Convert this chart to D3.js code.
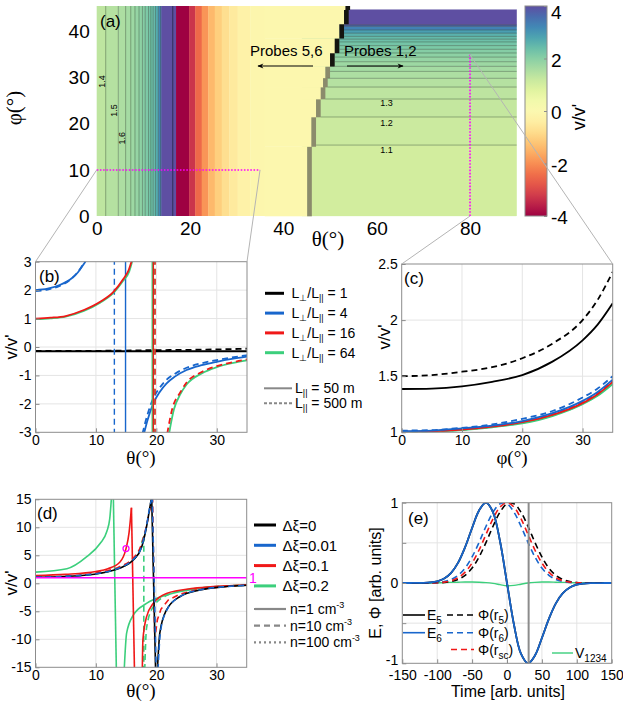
<!DOCTYPE html>
<html>
<head>
<meta charset="utf-8">
<script src="https://cdn.jsdelivr.net/npm/d3@7"></script>
<style>
  body { margin: 0; background: #fff; }
  text { font-family: "Liberation Sans", Arial, sans-serif; fill: #000; }
</style>
</head>
<body>
<svg id="fig" width="623" height="701"></svg>
<script>
// ================= DATA =================
// (a) heat map of v/v' : theta bands (left of the step edge), phi rows (right of it)
var aLeftEdges = [0, 1.93, 4.63, 6.2, 7.3, 8.2, 9.07, 9.8, 10.4, 11.1, 11.6, 12.1, 12.6, 13.2, 13.7, 13.9,
                  16.3, 17.0, 19.8, 21.1, 22.5, 23.9, 25.3, 26.8, 28.4, 30.2, 32.9, 36];
var aLeftVals  = [1.33, 1.45, 1.55, 1.65, 1.75, 1.85, 1.95, 2.05, 2.15, 2.25, 2.35, 2.45, 2.7, 3.2, 3.7,
                  4.5, 4.3, -4.5, -3.3, -2.5, -1.9, -1.4, -1.05, -0.75, -0.5, -0.3, -0.15];
var aPaleVal = -0.1;
var aRightEdges = [0, 15.4, 21.5, 25.4, 28.0, 29.9, 31.4, 32.5, 33.5, 34.5, 35.4, 36.2, 37.0, 37.8,
                   38.4, 39.0, 39.7, 40.4, 41.2, 41.5, 44.8];
var aRightVals  = [1.05, 1.15, 1.25, 1.35, 1.45, 1.55, 1.65, 1.75, 1.85, 1.95, 2.05, 2.15, 2.25, 2.35,
                   2.45, 2.6, 2.9, 3.3, 3.7, 4.5];
var aStepLo    = [0, 15.1, 21.5, 25.4, 28.0, 30.0, 32.5, 35.4, 38.6, 41.7, 44.8];
var aStepHi    = [15.1, 21.5, 25.4, 28.0, 30.0, 32.5, 35.4, 38.6, 41.7, 44.8, 45.6];
var aStepTheta = [46.1, 47.0, 48.0, 49.0, 49.5, 50.0, 51.0, 52.0, 53.0, 54.0, 54.3];
var aTicksX = [0, 20, 40, 60, 80];
var aTicksY = [0, 10, 20, 30, 40];
var cbTicks = [-4, -2, 0, 2, 4];

// (b) v/v' vs theta, L_perp/L_par = 1, 4, 16, 64 ; L_par = 50 m (solid) / 500 m (dashed)
var bRatios = ["1", "4", "16", "64"];
var bL1sT = [0, 10, 20, 30, 35],  bL1sV = [-0.15, -0.15, -0.15, -0.15, -0.15];
var bL1dT = [0, 10, 20, 30, 35],  bL1dV = [-0.14, -0.135, -0.11, -0.085, -0.06];
var bL4sT1 = [0, 2, 4, 6, 7, 8, 8.4],  bL4sV1 = [2.0, 2.05, 2.18, 2.42, 2.62, 2.92, 3.05];
var bL4dT1 = [0, 2, 4, 6, 7, 8, 8.3],  bL4dV1 = [1.97, 2.02, 2.15, 2.41, 2.63, 2.95, 3.05];
var bL4sPole = 14.9, bL4dPole = 13.05;
var bL4sT2 = [17.95, 18.5, 19.5, 20.5, 21.7, 23, 25, 27.5, 30, 32.5, 35];
var bL4sV2 = [-3.05, -2.6, -1.98, -1.6, -1.28, -1.05, -0.81, -0.64, -0.52, -0.42, -0.34];
var bL4dT2 = [17.7, 18.5, 19.5, 20.5, 21.7, 23, 25, 27.5, 30, 32.5, 35];
var bL4dV2 = [-3.05, -2.4, -1.8, -1.45, -1.15, -0.95, -0.73, -0.57, -0.46, -0.37, -0.29];
var bL16T1 = [0, 2.5, 5, 8, 10.7, 12.9, 14.5, 15.4, 15.95];
var bL16V1 = [1.0, 1.03, 1.09, 1.3, 1.59, 1.94, 2.38, 2.7, 3.05];
var bL64T1 = [0, 2.5, 5, 8, 10.7, 12.9, 14.5, 15.5, 16.05];
var bL64V1 = [0.98, 1.01, 1.07, 1.27, 1.56, 1.9, 2.33, 2.65, 3.05];
var bL16sPole = 19.5, bL16dPole = 19.8, bL64sPole = 19.4, bL64dPole = 19.6;
var bL16T2 = [21.8, 22.6, 24, 25, 27.5, 30, 32.5, 35];
var bL16V2 = [-3.05, -2.2, -1.58, -1.25, -0.88, -0.67, -0.54, -0.44];
var bL64T2 = [22.1, 22.9, 24, 25, 27.5, 30, 32.5, 35];
var bL64V2 = [-3.05, -2.2, -1.65, -1.32, -0.93, -0.71, -0.57, -0.47];

// (c) v/v' vs phi at theta = 80
var cPhi = [0, 5, 10, 15, 20, 25, 30, 32.5, 35];
var cL1s  = [1.386, 1.39, 1.41, 1.45, 1.51, 1.63, 1.82, 1.96, 2.15];
var cL1d  = [1.50, 1.51, 1.54, 1.58, 1.66, 1.79, 2.0, 2.18, 2.43];
var cL4d  = [1.015, 1.02, 1.04, 1.07, 1.12, 1.19, 1.31, 1.39, 1.50];
var cL4s  = [1.01, 1.015, 1.035, 1.06, 1.10, 1.17, 1.28, 1.36, 1.47];
var cL16d = [1.008, 1.012, 1.03, 1.055, 1.095, 1.16, 1.27, 1.35, 1.46];
var cL16s = [1.005, 1.01, 1.025, 1.05, 1.09, 1.155, 1.26, 1.34, 1.45];
var cL64d = [1.003, 1.008, 1.022, 1.047, 1.085, 1.15, 1.255, 1.33, 1.44];
var cL64s = [1.0, 1.005, 1.02, 1.045, 1.08, 1.145, 1.25, 1.325, 1.43];

// (d) v/v' vs theta for delta-xi = 0, 0.01, 0.1, 0.2 ; n = 1, 10, 100 cm^-3
var dXi = ["0", "0.01", "0.1", "0.2"];
var dN = ["1", "10", "100"];
var dX0T1 = [0, 5, 10.7, 12.5, 14.5, 16.2, 17.6, 18.4, 18.9, 19.25];
var dX0V1 = [1.07, 1.22, 1.79, 2.2, 2.96, 4.16, 6.5, 10.1, 13.2, 15.5];
var dX0Pole = [19.25, 19.9];
var dX0T2 = [20.2, 20.6, 21.7, 23.9, 27.2, 31, 35];
var dX0V2 = [-15.5, -8.9, -4.8, -2.4, -1.2, -0.65, -0.35];
var dX01T1 = [0, 5, 10.7, 12.5, 14.5, 16.2, 17.6, 18.4, 18.9, 19.35];
var dX01V1 = [1.1, 1.25, 1.83, 2.25, 3.02, 4.25, 6.6, 10.3, 13.4, 15.5];
var dX01Pole = [19.35, 20.0];
var dX01T2 = [20.3, 20.7, 21.8, 24, 27.2, 31, 35];
var dX01V2 = [-15.5, -8.7, -4.7, -2.35, -1.18, -0.64, -0.34];
var dX1sT1 = [0, 5, 10, 12, 14, 15, 15.5, 15.9];
var dX1sV1 = [1.4, 1.6, 2.1, 2.6, 3.8, 6.2, 9, 13.5];
var dX1sPole = [15.9, 16.4];
var dX1sT2 = [17.7, 17.8, 18.4, 19.5, 21.7, 26.2, 30, 35];
var dX1sV2 = [-15.5, -10.1, -6, -3.6, -1.8, -0.9, -0.55, -0.3];
var dX1dT1 = [0, 5, 10, 14, 16, 17.5, 18.5, 19.1, 19.4];
var dX1dV1 = [1.1, 1.25, 1.85, 3.0, 4.3, 6.8, 10.8, 14, 15.5];
var dX1dT2 = [19.4, 19.75, 20.2, 20.8, 22, 24, 27, 31, 35];
var dX1dV2 = [15.5, -10, -6.5, -4.6, -3.0, -1.9, -1.1, -0.6, -0.33];
var dX2sT1 = [0, 5.2, 8.5, 10.7, 11.8, 12.3, 12.6];
var dX2sV1 = [2.0, 2.6, 4.75, 7.1, 9.2, 11.5, 15.5];
var dX2sPole = [12.9, 13.4];
var dX2sT2 = [14.7, 15.1, 16.2, 18.4, 21.7, 27.2, 35];
var dX2sV2 = [-15.5, -8.9, -5.7, -3.6, -2.1, -0.9, -0.35];
var dX2dT1 = [0, 5, 10, 14, 16, 17.3, 17.9];
var dX2dV1 = [1.1, 1.25, 1.7, 2.8, 4.0, 6.0, 8.5];
var dX2dPole = [17.95, 17.95];
var dX2dT2 = [18.1, 18.4, 19.5, 21.7, 26, 35];
var dX2dV2 = [-15.5, -8, -4.2, -2.2, -1.0, -0.33];
var dMark = [15, 6.2];

// (e) E and Phi time series
var tE = [-150, -140, -130, -120, -110, -100, -90, -80, -70, -60, -50, -40, -30, -20, -10, 0,
          10, 20, 30, 40, 50, 60, 70, 80, 90, 100, 110, 120, 130, 140, 150];
var eField = [0, 0.0002, 0.0008, 0.0022, 0.0073, 0.021, 0.055, 0.126, 0.253, 0.446, 0.685, 0.904, 1.0, 0.881, 0.52, 0,
              -0.52, -0.881, -1.0, -0.904, -0.685, -0.446, -0.253, -0.126, -0.055, -0.021, -0.0073, -0.0022, -0.0008, -0.0002, 0];
var phiR5 = [0, 0, 0, 0.0002, 0.0006, 0.0022, 0.0066, 0.018, 0.044, 0.096, 0.186, 0.325, 0.506, 0.707, 0.882, 0.986,
             0.986, 0.882, 0.707, 0.506, 0.325, 0.186, 0.096, 0.044, 0.018, 0.0066, 0.0022, 0.0006, 0.0002, 0, 0];
var phiR6 = [0, 0, 0.0002, 0.0006, 0.0022, 0.0066, 0.018, 0.044, 0.096, 0.186, 0.325, 0.506, 0.707, 0.882, 0.986, 0.986,
             0.882, 0.707, 0.506, 0.325, 0.186, 0.096, 0.044, 0.018, 0.0066, 0.0022, 0.0006, 0.0002, 0, 0, 0];
var phiRsc = [0, 0, 0.0001, 0.0003, 0.0012, 0.0039, 0.0111, 0.0286, 0.0657, 0.135, 0.249, 0.411, 0.607, 0.801, 0.946, 1.0,
              0.946, 0.801, 0.607, 0.411, 0.249, 0.135, 0.0657, 0.0286, 0.0111, 0.0039, 0.0012, 0.0003, 0.0001, 0, 0];
var v1234 = [0, 0, 0, 0, 0, 0.002, 0.005, 0.008, 0.01, 0.012, 0.012, 0.01, 0.005, -0.005, -0.02, -0.035,
             -0.03, -0.015, 0, 0.008, 0.012, 0.012, 0.01, 0.008, 0.005, 0.002, 0, 0, 0, 0, 0];
var eMarkT = 31;

// ================= DRAWING =================
var svg = d3.select("#fig");
var BLACK = "#000", BLUE = "#1866cc", RED = "#f01818", GREEN = "#3ccf7c", MAG = "#ff00ff";
var FRAME = "#8c8c8c", GRID = "#e4e4e4";
var serif = "'Liberation Serif', 'Times New Roman', serif";

function zip(a, b) { return a.map(function(d, i) { return [d, b[i]]; }); }
function spec(v) { return d3.interpolateSpectral(Math.max(0, Math.min(1, (v + 4) / 8))); }

function styleAxis(g, size) {
  g.attr("font-family", null).attr("font-size", size);
  g.select(".domain").remove();
  g.selectAll(".tick line").attr("stroke", FRAME);
}

function makePanel(id, x0, x1, y0, y1, xd, yd, xt, yt, xg, yg, yfmt, xpad) {
  var x = d3.scaleLinear().domain(xd).range([x0, x1]);
  var y = d3.scaleLinear().domain(yd).range([y1, y0]);
  svg.append("clipPath").attr("id", id)
     .append("rect").attr("x", x0).attr("y", y0).attr("width", x1 - x0).attr("height", y1 - y0);
  var grid = svg.append("g");
  xg.forEach(function(t) {
    grid.append("line").attr("x1", x(t)).attr("x2", x(t)).attr("y1", y0).attr("y2", y1)
        .attr("stroke", GRID).attr("stroke-width", 1);
  });
  yg.forEach(function(t) {
    grid.append("line").attr("y1", y(t)).attr("y2", y(t)).attr("x1", x0).attr("x2", x1)
        .attr("stroke", GRID).attr("stroke-width", 1);
  });
  var g = svg.append("g").attr("clip-path", "url(#" + id + ")");
  var p = { x: x, y: y, g: g, x0: x0, x1: x1, y0: y0, y1: y1 };
  p.finish = function() {
    svg.append("rect").attr("x", x0).attr("y", y0).attr("width", x1 - x0).attr("height", y1 - y0)
       .attr("fill", "none").attr("stroke", FRAME).attr("stroke-width", 1);
    var gx = svg.append("g").attr("transform", "translate(0," + y1 + ")")
       .call(d3.axisBottom(x).tickValues(xt).tickSize(-4).tickPadding(xpad || 3)
             .tickFormat(function(d) { return String(d); }));
    styleAxis(gx, 14);
    var gy = svg.append("g").attr("transform", "translate(" + x0 + ",0)")
       .call(d3.axisLeft(y).tickValues(yt).tickSize(-4).tickPadding(4)
             .tickFormat(yfmt || function(d) { return String(d); }));
    styleAxis(gy, 14);
    return gy;
  };
  return p;
}

function curve(p, t, v, color, dash, width, interp) {
  p.g.append("path").datum(zip(t, v))
     .attr("d", d3.line().x(function(d) { return p.x(d[0]); }).y(function(d) { return p.y(d[1]); })
                .curve(interp || d3.curveMonotoneX))
     .attr("fill", "none").attr("stroke", color).attr("stroke-width", width || 1.8)
     .attr("stroke-dasharray", dash || null);
}

// ---------- (a) ----------
var xA = d3.scaleLinear().domain([0, 90]).range([96.7, 516.7]);
var yA = d3.scaleLinear().domain([0, 45.6]).range([216, 6]);
var gA = svg.append("g");

// right rows
aRightVals.forEach(function(v, i) {
  gA.append("rect").attr("x", xA(44)).attr("width", xA(90) - xA(44))
    .attr("y", yA(aRightEdges[i + 1])).attr("height", yA(aRightEdges[i]) - yA(aRightEdges[i + 1]))
    .attr("fill", spec(v)).attr("stroke", spec(v)).attr("stroke-width", 0.3);
});
// left bands
aLeftVals.forEach(function(v, i) {
  gA.append("rect").attr("x", xA(aLeftEdges[i])).attr("width", xA(aLeftEdges[i + 1]) - xA(aLeftEdges[i]) + 0.3)
    .attr("y", yA(45.6)).attr("height", yA(0) - yA(45.6))
    .attr("fill", spec(v));
});
// pale region and step side faces
aStepTheta.forEach(function(th, i) {
  var yt = yA(aStepHi[i]), yb = yA(aStepLo[i]);
  gA.append("rect").attr("x", xA(36)).attr("width", xA(th - 1) - xA(36) + 0.3)
    .attr("y", yt).attr("height", yb - yt + 0.3).attr("fill", spec(aPaleVal));
  gA.append("rect").attr("x", xA(th - 1)).attr("width", xA(th) - xA(th - 1))
    .attr("y", yt).attr("height", yb - yt + 0.3)
    .attr("fill", aStepLo[i] >= 32 ? "#151510" : "#8b8b6c");
});
function edgeAt(phi) {
  for (var i = 0; i < aStepLo.length; i++) if (phi >= aStepLo[i] && phi < aStepHi[i]) return aStepTheta[i];
  return aStepTheta[aStepTheta.length - 1];
}
// contour lines
var cLine = "rgba(50,70,50,0.5)";
for (var i = 1; i <= 14; i++) {
  gA.append("line").attr("x1", xA(aLeftEdges[i])).attr("x2", xA(aLeftEdges[i]))
    .attr("y1", yA(45.6)).attr("y2", yA(0)).attr("stroke", cLine).attr("stroke-width", 0.8);
}
gA.append("line").attr("x1", xA(16.3)).attr("x2", xA(16.3)).attr("y1", yA(45.6)).attr("y2", yA(0))
  .attr("stroke", "rgba(30,30,60,0.7)").attr("stroke-width", 1);
aRightEdges.slice(1, -1).forEach(function(ph) {
  gA.append("line").attr("x1", xA(edgeAt(ph))).attr("x2", xA(90)).attr("y1", yA(ph)).attr("y2", yA(ph))
    .attr("stroke", cLine).attr("stroke-width", 0.8);
});
// contour labels
[["1.4", 1.93, 29.2], ["1.5", 4.63, 22.9], ["1.6", 6.2, 16.9]].forEach(function(d) {
  gA.append("text").attr("transform", "translate(" + (xA(d[1]) - 1) + "," + yA(d[2]) + ") rotate(-90)")
    .attr("text-anchor", "middle").attr("font-size", 9).text(d[0]);
});
[["1.1", 14.3], ["1.2", 20.3], ["1.3", 24.5]].forEach(function(d) {
  gA.append("text").attr("x", xA(62.1)).attr("y", yA(d[1]) + 3).attr("text-anchor", "middle")
    .attr("font-size", 9).text(d[0]);
});
// probe sampling lines
gA.append("line").attr("x1", xA(0)).attr("x2", xA(35)).attr("y1", yA(10)).attr("y2", yA(10))
  .attr("stroke", MAG).attr("stroke-width", 1.6).attr("stroke-dasharray", "1.6,1.6");
gA.append("line").attr("x1", xA(80)).attr("x2", xA(80)).attr("y1", yA(0)).attr("y2", yA(35))
  .attr("stroke", MAG).attr("stroke-width", 1.6).attr("stroke-dasharray", "1.6,1.6");
// arrows and labels
svg.append("defs").append("marker").attr("id", "arr").attr("viewBox", "0 0 10 10")
  .attr("refX", 9).attr("refY", 5).attr("markerWidth", 7).attr("markerHeight", 5).attr("orient", "auto")
  .append("path").attr("d", "M0,1 L10,5 L0,9 L3,5 Z").attr("fill", "#000");
gA.append("line").attr("x1", 313).attr("x2", 258).attr("y1", 66).attr("y2", 66)
  .attr("stroke", "#000").attr("stroke-width", 1.2).attr("marker-end", "url(#arr)");
gA.append("line").attr("x1", 347).attr("x2", 403).attr("y1", 66).attr("y2", 66)
  .attr("stroke", "#000").attr("stroke-width", 1.2).attr("marker-end", "url(#arr)");
gA.append("text").attr("x", 250).attr("y", 56).attr("font-size", 15).text("Probes 5,6");
gA.append("text").attr("x", 344).attr("y", 56).attr("font-size", 15).text("Probes 1,2");
gA.append("text").attr("x", 100).attr("y", 27).attr("font-size", 17).text("(a)");
// axes (a)
var axA = svg.append("g").attr("transform", "translate(0,216)")
  .call(d3.axisBottom(xA).tickValues(aTicksX).tickSize(0).tickPadding(6));
styleAxis(axA, 19);
var ayA = svg.append("g").attr("transform", "translate(96.7,0)")
  .call(d3.axisLeft(yA).tickValues(aTicksY).tickSize(0).tickPadding(7));
styleAxis(ayA, 19);
svg.append("text").attr("x", 328).attr("y", 246).attr("text-anchor", "middle")
  .style("font-family", serif).attr("font-size", 21).text("θ(°)");
svg.append("text").attr("transform", "translate(21,108) rotate(-90)").attr("text-anchor", "middle")
  .style("font-family", serif).attr("font-size", 21).text("φ(°)");
// colorbar
var cbY = d3.scaleLinear().domain([-4, 4]).range([216, 6]);
var grad = svg.append("defs").append("linearGradient").attr("id", "cbg")
  .attr("x1", 0).attr("x2", 0).attr("y1", 1).attr("y2", 0);
d3.range(0, 1.0001, 0.05).forEach(function(s) {
  grad.append("stop").attr("offset", s).attr("stop-color", d3.interpolateSpectral(s));
});
svg.append("rect").attr("x", 525).attr("y", 6).attr("width", 22).attr("height", 210)
  .attr("fill", "url(#cbg)").attr("stroke", FRAME).attr("stroke-width", 1);
var cbAx = svg.append("g").attr("transform", "translate(547,0)")
  .call(d3.axisRight(cbY).tickValues(cbTicks).tickSize(-3).tickPadding(4)
        .tickFormat(function(d) { return String(d); }));
styleAxis(cbAx, 19);
cbAx.selectAll(".tick text").attr("dy", function(d) { return d === 4 ? "0.66em" : "0.42em"; });
svg.append("text").attr("transform", "translate(585,117) rotate(-90)").attr("text-anchor", "middle")
  .attr("font-size", 18).text("v/v'");

// ---------- (b) ----------
var B = makePanel("clipB", 35.5, 247, 261.7, 432.3, [0, 35], [-3, 3],
                  [0, 10, 20, 30], [-3, -2, -1, 0, 1, 2, 3], [10, 20, 30], [-2, -1, 0, 1, 2]);
var DASH = "6,4";
curve(B, bL1sT, bL1sV, BLACK, null, 1.8);
curve(B, bL1dT, bL1dV, BLACK, DASH, 1.8);
curve(B, bL4sT1, bL4sV1, BLUE);
curve(B, bL4dT1, bL4dV1, BLUE, DASH);
curve(B, [bL4sPole, bL4sPole], [3.1, -3.1], BLUE, null, 1.4, d3.curveLinear);
curve(B, [bL4dPole, bL4dPole], [3.1, -3.1], BLUE, DASH, 1.4, d3.curveLinear);
curve(B, bL4sT2, bL4sV2, BLUE);
curve(B, bL4dT2, bL4dV2, BLUE, DASH);
curve(B, bL64T1, bL64V1, GREEN);
curve(B, bL64T2, bL64V2, GREEN);
curve(B, [bL64sPole, bL64sPole], [3.1, -3.1], GREEN, null, 2.4, d3.curveLinear);
curve(B, [bL64dPole, bL64dPole], [3.1, -3.1], GREEN, DASH, 2.2, d3.curveLinear);
curve(B, bL16T1, bL16V1, RED);
curve(B, bL16T2, bL16V2, RED, DASH);
curve(B, [bL16sPole, bL16sPole], [3.1, -3.1], RED, null, 1.4, d3.curveLinear);
curve(B, [bL16dPole, bL16dPole], [3.1, -3.1], RED, DASH, 1.4, d3.curveLinear);
B.finish();
svg.append("text").attr("x", 39).attr("y", 282).attr("font-size", 17).text("(b)");
svg.append("text").attr("transform", "translate(17,347) rotate(-90)").attr("text-anchor", "middle")
  .attr("font-size", 17).text("v/v'");
svg.append("text").attr("x", 141).attr("y", 464).attr("text-anchor", "middle")
  .style("font-family", serif).attr("font-size", 19).text("θ(°)");

// legend (b)
[BLACK, BLUE, RED, GREEN].forEach(function(c, i) {
  var yy = 293.3 + i * 19.8;
  svg.append("line").attr("x1", 265).attr("x2", 284).attr("y1", yy).attr("y2", yy)
    .attr("stroke", c).attr("stroke-width", 3);
  var t = svg.append("text").attr("x", 291.5).attr("y", yy + 5).attr("font-size", 14);
  t.append("tspan").text("L");
  t.append("tspan").attr("font-size", 9).attr("dy", 3).text("⊥");
  t.append("tspan").attr("dy", -3).text("/L");
  t.append("tspan").attr("font-size", 9).attr("dy", 3).text("||");
  t.append("tspan").attr("dy", -3).text(" = " + bRatios[i]);
});
[["50", null], ["500", "3,2"]].forEach(function(d, i) {
  var yy = 388.3 + i * 15;
  svg.append("line").attr("x1", 264).attr("x2", 292).attr("y1", yy).attr("y2", yy)
    .attr("stroke", "#888").attr("stroke-width", 2).attr("stroke-dasharray", d[1]);
  var t = svg.append("text").attr("x", 295).attr("y", yy + 5).attr("font-size", 14);
  t.append("tspan").text("L");
  t.append("tspan").attr("font-size", 9).attr("dy", 3).text("||");
  t.append("tspan").attr("dy", -3).text(" = " + d[0] + " m");
});

// ---------- (c) ----------
var C = makePanel("clipC", 401.7, 612.7, 264, 432.3, [0, 35], [1, 2.5],
                  [0, 10, 20, 30], [1, 1.5, 2, 2.5], [10, 20, 30], [1.5, 2]);
curve(C, cPhi, cL64s, GREEN);
curve(C, cPhi, cL64d, GREEN, DASH);
curve(C, cPhi, cL16s, RED);
curve(C, cPhi, cL16d, RED, DASH);
curve(C, cPhi, cL4s, BLUE);
curve(C, cPhi, cL4d, BLUE, DASH);
curve(C, cPhi, cL1s, BLACK);
curve(C, cPhi, cL1d, BLACK, DASH);
C.finish();
svg.append("text").attr("x", 404).attr("y", 284).attr("font-size", 17).text("(c)");
svg.append("text").attr("transform", "translate(390,337) rotate(-90)").attr("text-anchor", "middle")
  .attr("font-size", 17).text("v/v'");
svg.append("text").attr("x", 512).attr("y", 464).attr("text-anchor", "middle")
  .style("font-family", serif).attr("font-size", 19).text("φ(°)");

// zoom guide lines from (a) to (b) and (c)
var guide = svg.append("g").attr("stroke", "#b4b4b4").attr("stroke-width", 1);
guide.append("line").attr("x1", xA(0)).attr("y1", yA(10)).attr("x2", B.x0).attr("y2", B.y0);
guide.append("line").attr("x1", xA(35)).attr("y1", yA(10)).attr("x2", B.x1).attr("y2", B.y0);
guide.append("line").attr("x1", xA(80)).attr("y1", yA(35)).attr("x2", C.x1).attr("y2", C.y0);
guide.append("line").attr("x1", xA(80)).attr("y1", yA(0)).attr("x2", C.x0).attr("y2", C.y0);

// ---------- (d) ----------
var D = makePanel("clipD", 35.5, 246.7, 499.3, 667.3, [0, 35], [-15, 15],
                  [0, 10, 20, 30], [-15, -10, -5, 0, 5, 10, 15], [10, 20, 30], [-10, -5, 0, 5, 10]);
var LIN = d3.curveLinear;
curve(D, dX2dT1, dX2dV1, GREEN, DASH, 1.6);
curve(D, dX2dPole, [8.5, -15.5], GREEN, DASH, 1.6, LIN);
curve(D, dX2dT2, dX2dV2, GREEN, DASH, 1.6);
curve(D, dX2sT1, dX2sV1, GREEN, null, 1.6);
curve(D, dX2sPole, [15.5, -15.5], GREEN, null, 1.6, LIN);
curve(D, dX2sT2, dX2sV2, GREEN, null, 1.6);
curve(D, dX1sT1, dX1sV1, RED, null, 1.6);
curve(D, dX1sPole, [13.5, -15.5], RED, null, 1.6, LIN);
curve(D, dX1sT2, dX1sV2, RED, null, 1.6);
curve(D, dX1dT1, dX1dV1, RED, DASH, 1.6);
curve(D, dX1dT2, dX1dV2, RED, DASH, 1.6, LIN);
curve(D, dX0T1, dX0V1, BLACK, null, 1.6);
curve(D, dX0Pole, [15.5, -15.5], BLACK, null, 1.6, LIN);
curve(D, dX0T2, dX0V2, BLACK, null, 1.6);
curve(D, dX01T1, dX01V1, BLUE, DASH, 1.6);
curve(D, dX01Pole, [15.5, -15.5], BLUE, DASH, 1.6, LIN);
curve(D, dX01T2, dX01V2, BLUE, DASH, 1.6);
D.g.append("line").attr("x1", D.x(0)).attr("x2", D.x(35)).attr("y1", D.y(1)).attr("y2", D.y(1))
  .attr("stroke", MAG).attr("stroke-width", 1.6);
D.g.append("circle").attr("cx", D.x(dMark[0])).attr("cy", D.y(dMark[1])).attr("r", 3)
  .attr("fill", "none").attr("stroke", MAG).attr("stroke-width", 1.3);
D.finish();
svg.append("text").attr("x", 249).attr("y", D.y(1) + 5).attr("font-size", 14).attr("fill", MAG)
  .style("fill", MAG).text("1");
svg.append("text").attr("x", 37).attr("y", 519).attr("font-size", 17).text("(d)");
svg.append("text").attr("transform", "translate(17,583) rotate(-90)").attr("text-anchor", "middle")
  .attr("font-size", 17).text("v/v'");
svg.append("text").attr("x", 141).attr("y", 697).attr("text-anchor", "middle")
  .style("font-family", serif).attr("font-size", 19).text("θ(°)");

// legend (d)
[BLACK, BLUE, RED, GREEN].forEach(function(c, i) {
  var yy = 525 + i * 20.3;
  svg.append("line").attr("x1", 254).attr("x2", 276).attr("y1", yy).attr("y2", yy)
    .attr("stroke", c).attr("stroke-width", 3);
  svg.append("text").attr("x", 282.5).attr("y", yy + 5.5).attr("font-size", 15).text("Δξ=" + dXi[i]);
});
[null, "6,4", "2,3"].forEach(function(dash, i) {
  var yy = 609 + i * 16.7;
  svg.append("line").attr("x1", 254).attr("x2", 286).attr("y1", yy).attr("y2", yy)
    .attr("stroke", "#888").attr("stroke-width", 2.2).attr("stroke-dasharray", dash);
  var t = svg.append("text").attr("x", 290).attr("y", yy + 5).attr("font-size", 14);
  t.append("tspan").text("n=" + dN[i] + " cm");
  t.append("tspan").attr("font-size", 9).attr("dy", -6).text("-3");
});

// ---------- (e) ----------
var E = makePanel("clipE", 402.3, 611.7, 502.7, 663.3, [-150, 150], [-1, 1],
                  [-150, -100, -50, 0, 50, 100, 150], [-1, -0.5, 0, 0.5, 1],
                  [-100, -50, 0, 50, 100], [-0.5, 0, 0.5],
                  function(d) { return d % 1 === 0 ? String(d) : ""; }, 7);
var CR = d3.curveCatmullRom;
curve(E, tE, v1234, GREEN, null, 1.4, CR);
curve(E, tE, phiR5, BLACK, DASH, 1.6, CR);
curve(E, tE, phiR6, BLUE, DASH, 1.6, CR);
curve(E, tE, phiRsc, RED, DASH, 1.6, CR);
curve(E, tE, eField, BLACK, null, 1.8, CR);
curve(E, tE, eField, BLUE, null, 1.8, CR);
E.g.append("line").attr("x1", E.x(eMarkT)).attr("x2", E.x(eMarkT)).attr("y1", E.y0).attr("y2", E.y1)
  .attr("stroke", "#8c8c8c").attr("stroke-width", 2);
var eyAx = E.finish();
eyAx.selectAll(".tick text").filter(function(d) { return d === -1; }).attr("dy", "0.1em");
svg.append("text").attr("x", 408).attr("y", 524).attr("font-size", 17).text("(e)");
svg.append("text").attr("transform", "translate(381,583) rotate(-90)").attr("text-anchor", "middle")
  .attr("font-size", 16).text("E, Φ [arb. units]");
svg.append("text").attr("x", 508).attr("y", 697).attr("text-anchor", "middle")
  .attr("font-size", 16).text("Time [arb. units]");

// legend (e)
function subText(x, y, main, sub, tail) {
  var t = svg.append("text").attr("x", x).attr("y", y).attr("font-size", 14);
  t.append("tspan").text(main);
  t.append("tspan").attr("font-size", 10).attr("dy", 4).text(sub);
  if (tail) t.append("tspan").attr("dy", -4).text(tail);
}
[[BLACK, "5"], [BLUE, "6"]].forEach(function(d, i) {
  var yy = 615 + i * 17.7;
  svg.append("line").attr("x1", 403).attr("x2", 425).attr("y1", yy).attr("y2", yy)
    .attr("stroke", d[0]).attr("stroke-width", 1.6);
  subText(427, yy + 5, "E", d[1]);
  svg.append("line").attr("x1", 447).attr("x2", 474).attr("y1", yy).attr("y2", yy)
    .attr("stroke", d[0]).attr("stroke-width", 1.6).attr("stroke-dasharray", "6,4");
  subText(478, yy + 5, "Φ(r", d[1], ")");
});
svg.append("line").attr("x1", 451).attr("x2", 474).attr("y1", 649.5).attr("y2", 649.5)
  .attr("stroke", RED).attr("stroke-width", 1.6).attr("stroke-dasharray", "6,4");
subText(478, 654.5, "Φ(r", "sc", ")");
svg.append("line").attr("x1", 552).attr("x2", 573).attr("y1", 653).attr("y2", 653)
  .attr("stroke", GREEN).attr("stroke-width", 1.4);
subText(575, 658, "V", "1234");
</script>
</body>
</html>
